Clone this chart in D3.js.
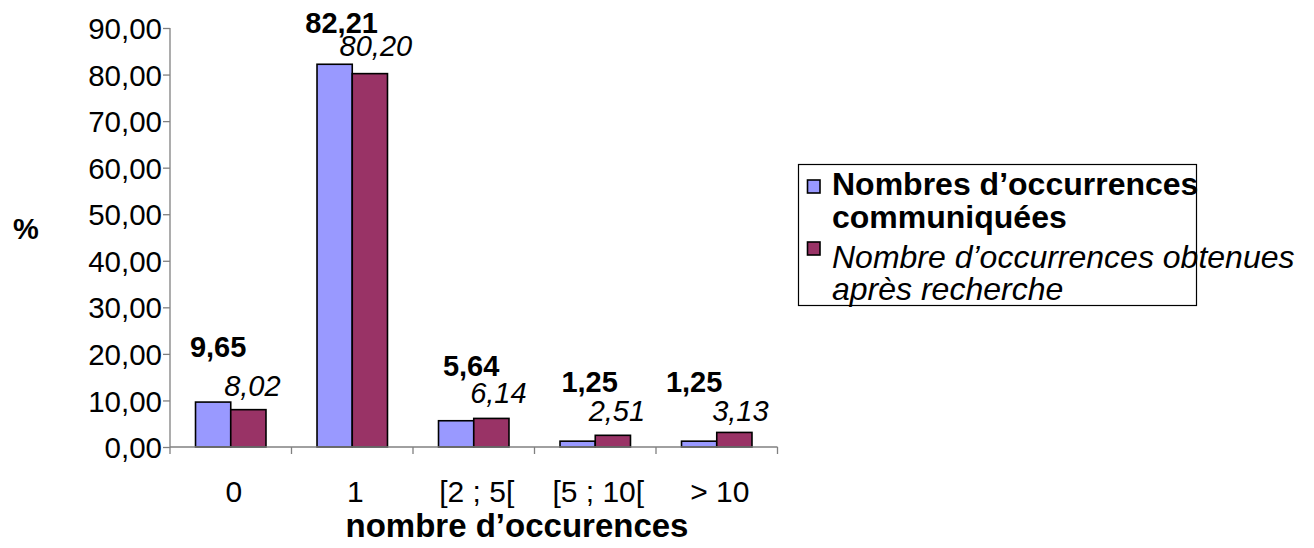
<!DOCTYPE html>
<html>
<head>
<meta charset="utf-8">
<script src="https://cdn.jsdelivr.net/npm/d3@7"></script>
<style>
  html, body { margin: 0; padding: 0; background: #fff; }
  svg { display: block; font-family: "Liberation Sans", Arial, sans-serif; }
</style>
</head>
<body>
<svg id="chart" width="1314" height="548"></svg>
<script>
// Categories (number of occurrences) and the two series, in percent
const categories = ["0", "1", "[2 ; 5[", "[5 ; 10[", "> 10"];
const communicated = [9.65, 82.21, 5.64, 1.25, 1.25];
const afterSearch = [8.02, 80.20, 6.14, 2.51, 3.13];
const yTicks = [0, 10, 20, 30, 40, 50, 60, 70, 80, 90];

// Hand-placed value label offsets in pixels [dx, dy above bar top]
const commLabelNudge = [[5, 45], [7, 31], [15, 45], [12, 49], [-5, 49]];
const searchLabelNudge = [[4, 14], [6, 18], [7, 15], [4, 14], [6, 11]];

const colors = ["#9999FF", "#993366"];
const fmt = v => v.toFixed(2).replace(".", ",");

const svg = d3.select("#chart");
const plot = { left: 170, right: 777.5, top: 28, bottom: 447 };

const x = d3.scaleBand().domain(categories).range([plot.left, plot.right]).padding(0);
const xInner = d3.scaleBand().domain([0, 1])
  .range([x.bandwidth() * 0.21, x.bandwidth() * 0.79]).padding(0);
const y = d3.scaleLinear().domain([0, 90]).range([plot.bottom, plot.top]);

const rows = categories.map((c, i) => ({ c, vals: [communicated[i], afterSearch[i]] }));

// Bars
const groups = svg.append("g").selectAll("g").data(rows).join("g")
  .attr("transform", d => `translate(${x(d.c)},0)`);
groups.selectAll("rect").data(d => d.vals.map((v, s) => ({ v, s }))).join("rect")
  .attr("x", d => xInner(d.s))
  .attr("width", xInner.bandwidth())
  .attr("y", d => y(d.v))
  .attr("height", d => y(0) - y(d.v))
  .attr("fill", d => colors[d.s])
  .attr("stroke", "#000")
  .attr("stroke-width", 1.6);

// Y axis
const yAxis = svg.append("g").attr("transform", `translate(${plot.left},0)`)
  .call(d3.axisLeft(y).tickValues(yTicks).tickFormat(fmt).tickSize(7).tickPadding(1));
yAxis.select(".domain").attr("stroke", "#808080").attr("stroke-width", 1.3)
  .attr("d", `M0,${plot.top}V${plot.bottom}`);
yAxis.selectAll(".tick line").attr("stroke", "#808080").attr("stroke-width", 1.3);
yAxis.selectAll(".tick text").attr("font-size", 29.5).attr("fill", "#000")
  .attr("font-family", "Liberation Sans, Arial, sans-serif").attr("dy", "0.36em");

// X axis: tick marks on band boundaries, labels centred on bands
const xAxisG = svg.append("g");
xAxisG.append("line").attr("x1", plot.left).attr("x2", plot.right)
  .attr("y1", y(0)).attr("y2", y(0)).attr("stroke", "#808080").attr("stroke-width", 1.3);
const bounds = categories.map(c => x(c)).concat([plot.right]);
xAxisG.selectAll("line.tk").data(bounds).join("line").attr("class", "tk")
  .attr("x1", d => d).attr("x2", d => d)
  .attr("y1", y(0)).attr("y2", y(0) + 7)
  .attr("stroke", "#808080").attr("stroke-width", 1.3);
xAxisG.selectAll("text").data(categories).join("text")
  .attr("x", d => x(d) + x.bandwidth() / 2 + 3)
  .attr("y", 502)
  .attr("text-anchor", "middle")
  .attr("font-size", 30)
  .text(d => d);

// Value labels
const lab = svg.append("g");
rows.forEach((r, i) => {
  const cx0 = x(r.c) + xInner(0) + xInner.bandwidth() / 2;
  const cx1 = x(r.c) + xInner(1) + xInner.bandwidth() / 2;
  lab.append("text")
    .attr("x", cx0 + commLabelNudge[i][0])
    .attr("y", y(r.vals[0]) - commLabelNudge[i][1])
    .attr("text-anchor", "middle").attr("font-size", 29).attr("font-weight", "bold")
    .text(fmt(r.vals[0]));
  lab.append("text")
    .attr("x", cx1 + searchLabelNudge[i][0])
    .attr("y", y(r.vals[1]) - searchLabelNudge[i][1])
    .attr("text-anchor", "middle").attr("font-size", 29).attr("font-style", "italic")
    .text(fmt(r.vals[1]));
});

// Axis titles
svg.append("text").attr("x", 26).attr("y", 239).attr("text-anchor", "middle")
  .attr("font-size", 29).attr("font-weight", "bold").text("%");
svg.append("text").attr("x", 517).attr("y", 537).attr("text-anchor", "middle")
  .attr("font-size", 33).attr("font-weight", "bold").text("nombre d’occurences");

// Legend
const leg = svg.append("g");
leg.append("rect").attr("x", 798.5).attr("y", 164.5).attr("width", 398).attr("height", 141)
  .attr("fill", "none").attr("stroke", "#000").attr("stroke-width", 1.2);
const legItems = [
  { lines: ["Nombres d’occurrences", "communiquées"], bold: true, sy: 180, ty: 195, gap: 33 },
  { lines: ["Nombre d’occurrences obtenues", "après recherche"], bold: false, sy: 242, ty: 268, gap: 32 }
];
legItems.forEach((it, s) => {
  leg.append("rect").attr("x", 807.5).attr("y", it.sy).attr("width", 12.5).attr("height", 13)
    .attr("fill", colors[s]).attr("stroke", "#000").attr("stroke-width", 1.6);
  const t = leg.append("text").attr("x", 832).attr("y", it.ty).attr("font-size", 32)
    .attr("font-weight", it.bold ? "bold" : "normal")
    .attr("font-style", it.bold ? "normal" : "italic");
  it.lines.forEach((ln, k) => {
    t.append("tspan").attr("x", 832).attr("dy", k === 0 ? 0 : it.gap).text(ln);
  });
});
</script>
</body>
</html>
